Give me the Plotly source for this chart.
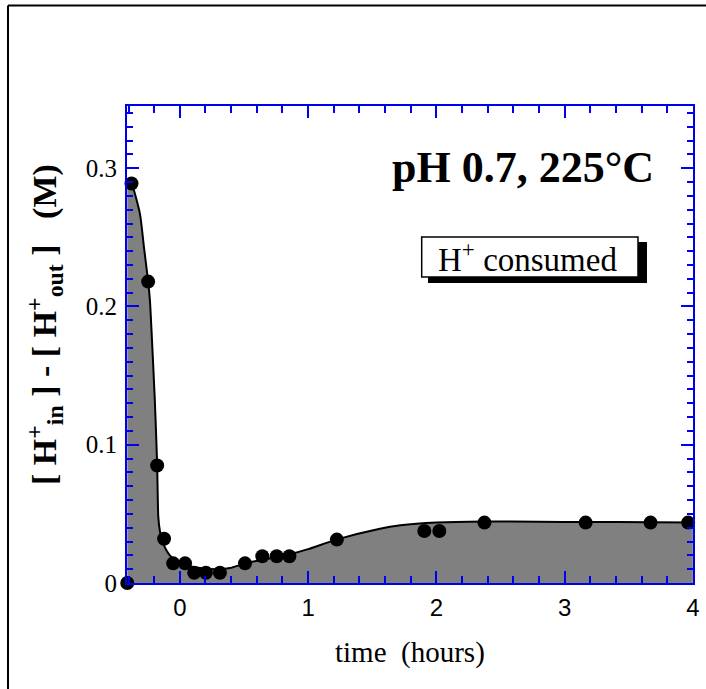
import plotly.graph_objects as go

# measured points
time_pts = [-0.41, -0.377, -0.247, -0.177, -0.123, -0.052, 0.041, 0.112, 0.203, 0.3125,
            0.508, 0.643, 0.755, 0.854, 1.224, 1.906, 2.023, 2.375, 3.164, 3.67, 3.963]
h_pts = [0.0, 0.289, 0.218, 0.085, 0.032, 0.0142, 0.0142, 0.0074, 0.0074, 0.0074,
         0.0142, 0.0194, 0.0194, 0.0194, 0.0314, 0.0376, 0.0376, 0.0437, 0.0437, 0.0437, 0.0437]

# fitted curve
curve_t = [-0.41, -0.377, -0.311, -0.28, -0.247, -0.233, -0.22, -0.195, -0.177, -0.168,
           -0.156, -0.13, -0.078, 0.0, 0.13, 0.287, 0.39, 0.51, 0.65, 0.86, 1.0, 1.22,
           1.56, 1.72, 2.0, 2.37, 2.8, 3.16, 3.67, 4.0]
curve_h = [0.292, 0.289, 0.267, 0.243, 0.218, 0.204, 0.181, 0.132, 0.086, 0.048,
           0.038, 0.0286, 0.020, 0.0144, 0.0113, 0.0099, 0.0108, 0.0142, 0.017, 0.0209, 0.0245, 0.0314,
           0.0393, 0.0417, 0.0437, 0.0445, 0.0443, 0.0441, 0.0440, 0.0437]

x_tickvals = [0, 1, 2, 3, 4]
y_tickvals = [0, 0.1, 0.2, 0.3]
y_ticktext = ["0", "0.1", "0.2", "0.3"]

W, H = 706, 689
L, R, T, B = 127, 693, 106, 583


def px(x):
    return (x - L) / (R - L)


def py(y):
    return (B - y) / (B - T)


BLUE = "#0000ee"
SERIF = "Liberation Serif, Times New Roman, serif"
SANS = "Liberation Sans, Arial, sans-serif"

fig = go.Figure()
fig.add_trace(go.Scatter(x=curve_t, y=curve_h, mode="lines",
                         line=dict(color="black", width=2, shape="spline", smoothing=0.6),
                         fill="tozeroy", fillcolor="#808080", hoverinfo="skip"))
fig.add_trace(go.Scatter(x=time_pts, y=h_pts, mode="markers",
                         marker=dict(color="black", size=14), cliponaxis=False))

fig.update_layout(
    width=W, height=H, showlegend=False,
    margin=dict(l=L, r=W - R, t=T, b=H - B, autoexpand=False),
    paper_bgcolor="white", plot_bgcolor="white",
    xaxis=dict(range=[-0.412, 4.001], tickvals=x_tickvals, ticks="inside", ticklen=12,
               tickwidth=2, tickcolor=BLUE, showline=True, linecolor=BLUE, linewidth=2,
               mirror="allticks", showgrid=False, zeroline=False, automargin=False,
               tickfont=dict(family=SANS, size=24, color="black"), ticklabelstandoff=2,
               minor=dict(dtick=0.2, tick0=0, ticks="inside", ticklen=7, tickwidth=2,
                          tickcolor=BLUE, showgrid=False)),
    yaxis=dict(range=[0, 0.345], tickvals=y_tickvals, ticktext=y_ticktext, ticks="inside",
               ticklen=12, tickwidth=2, tickcolor=BLUE, showline=True, linecolor=BLUE,
               linewidth=2, mirror="allticks", showgrid=False, zeroline=False, automargin=False,
               tickfont=dict(family=SERIF, size=25, color="black"), ticklabelstandoff=3,
               minor=dict(dtick=0.01, tick0=0, ticks="inside", ticklen=6, tickwidth=2,
                          tickcolor=BLUE, showgrid=False)),
)

shapes = [
    # outer frame (left and top edges)
    dict(type="line", xref="paper", yref="paper", x0=px(8), x1=px(8), y0=py(5.5), y1=py(H + 2),
         line=dict(color="black", width=2)),
    dict(type="line", xref="paper", yref="paper", x0=px(8), x1=px(W + 2), y0=py(5.5), y1=py(5.5),
         line=dict(color="black", width=2)),
    # label box shadow
    dict(type="rect", xref="paper", yref="paper", x0=px(428), x1=px(647), y0=py(283), y1=py(242),
         fillcolor="black", line=dict(width=0)),
    # label box
    dict(type="rect", xref="paper", yref="paper", x0=px(421.7), x1=px(638), y0=py(277), y1=py(237),
         fillcolor="white", line=dict(color="black", width=1.5)),
]
fig.update_layout(shapes=shapes)

annotations = [
    dict(text="<b>pH 0.7, 225°C</b>", x=px(522.5), y=py(167), xref="paper", yref="paper",
         showarrow=False, xanchor="center", yanchor="middle",
         font=dict(family=SERIF, size=44, color="black")),
    dict(text="H<sup>+</sup> consumed", x=px(527), y=py(257), xref="paper", yref="paper",
         showarrow=False, xanchor="center", yanchor="middle",
         font=dict(family=SERIF, size=33, color="black")),
    dict(text="<b>[ H<sup>+</sup><sub>in</sub> ] - [ H<sup>+</sup><sub>out</sub> ]   (M)</b>",
         x=px(44), y=py(325), xref="paper", yref="paper", textangle=-90,
         showarrow=False, xanchor="center", yanchor="middle",
         font=dict(family=SERIF, size=34, color="black")),
    dict(text="time  (hours)", x=px(410), y=py(652), xref="paper", yref="paper",
         showarrow=False, xanchor="center", yanchor="middle",
         font=dict(family=SERIF, size=29, color="black")),
]
fig.update_layout(annotations=annotations)

fig.write_html("out.html")
